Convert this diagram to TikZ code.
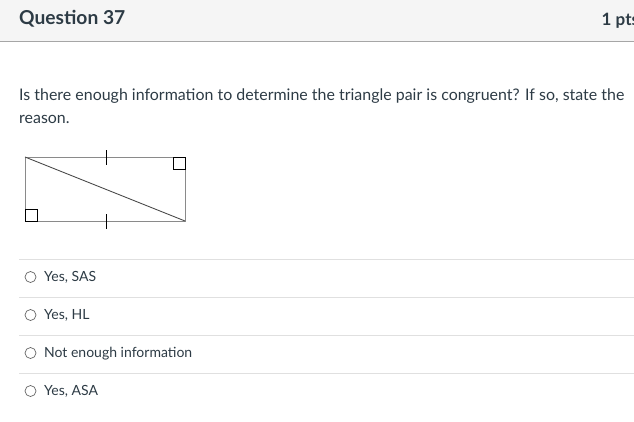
\documentclass[tikz,border=0pt]{standalone}
\usepackage{fontspec}
\setmainfont{Lato}
\definecolor{txt}{HTML}{2D3B45}
\definecolor{hdr}{HTML}{F5F5F5}
\definecolor{sep}{HTML}{E0E0E0}
\definecolor{rect}{HTML}{8A8A8A}
\begin{document}
\begin{tikzpicture}[x=1pt,y=-1pt,
  title/.style={anchor=base west,inner sep=0pt,font=\fontsize{19.2}{19.2}\selectfont\bfseries,text=txt},
  body/.style={anchor=base west,inner sep=0pt,font=\fontsize{15.95}{16}\selectfont,text=txt},
  opt/.style={anchor=base west,inner sep=0pt,font=\fontsize{14}{14}\selectfont,text=txt},
  radio/.style={circle,draw=gray!80!black,line width=0.7pt,minimum size=11pt,inner sep=0pt},
  sepline/.style={draw=sep,line width=0.8pt},
  geo/.style={draw=rect,line width=1pt},
  rmark/.style={draw=black,line width=1pt}]
\useasboundingbox (0,0) rectangle (634,421);
\fill[white] (0,0) rectangle (634,421);
\fill[hdr] (0,0) rectangle (634,41);
\draw[draw=gray!70,line width=1pt] (0,41) -- (634,41);
\node[title] (q) at (19,24) {Question 37};
\node[title,font=\fontsize{17}{17}\selectfont\bfseries] (pts) at (601.5,25) {1 pts};
\node[body] (l1) at (19,100) {Is there enough information to determine the triangle pair is congruent? If so, state the};
\node[body] (l2) at (19,123) {reason.};
% figure
\coordinate (A) at (25,157);
\coordinate (B) at (185,157);
\coordinate (C) at (185,221);
\coordinate (D) at (25,221);
\draw[geo] (A) -- (B) -- (C) -- (D) -- cycle;
\draw[draw=black!70,line width=0.9pt] (A) -- (C);
\draw[rmark] (173,157) rectangle (185,169);
\draw[rmark] (25,209) rectangle (37,221);
\draw[draw=black,line width=0.9pt] (106,150) -- (106,165);
\draw[draw=black,line width=0.9pt] (106,214) -- (106,229);
% options
\foreach \y in {259,297,335,373} \draw[sepline] (19,\y) -- (634,\y);
\node[radio] (r1) at (30.5,277) {};
\node[radio] (r2) at (30.5,315) {};
\node[radio] (r3) at (30.5,353) {};
\node[radio] (r4) at (30.5,391) {};
\node[opt] (o1) at (44,281) {Yes, SAS};
\node[opt] (o2) at (44,319) {Yes, HL};
\node[opt] (o3) at (44,357) {Not enough information};
\node[opt] (o4) at (44,395) {Yes, ASA};
\end{tikzpicture}
\end{document}
